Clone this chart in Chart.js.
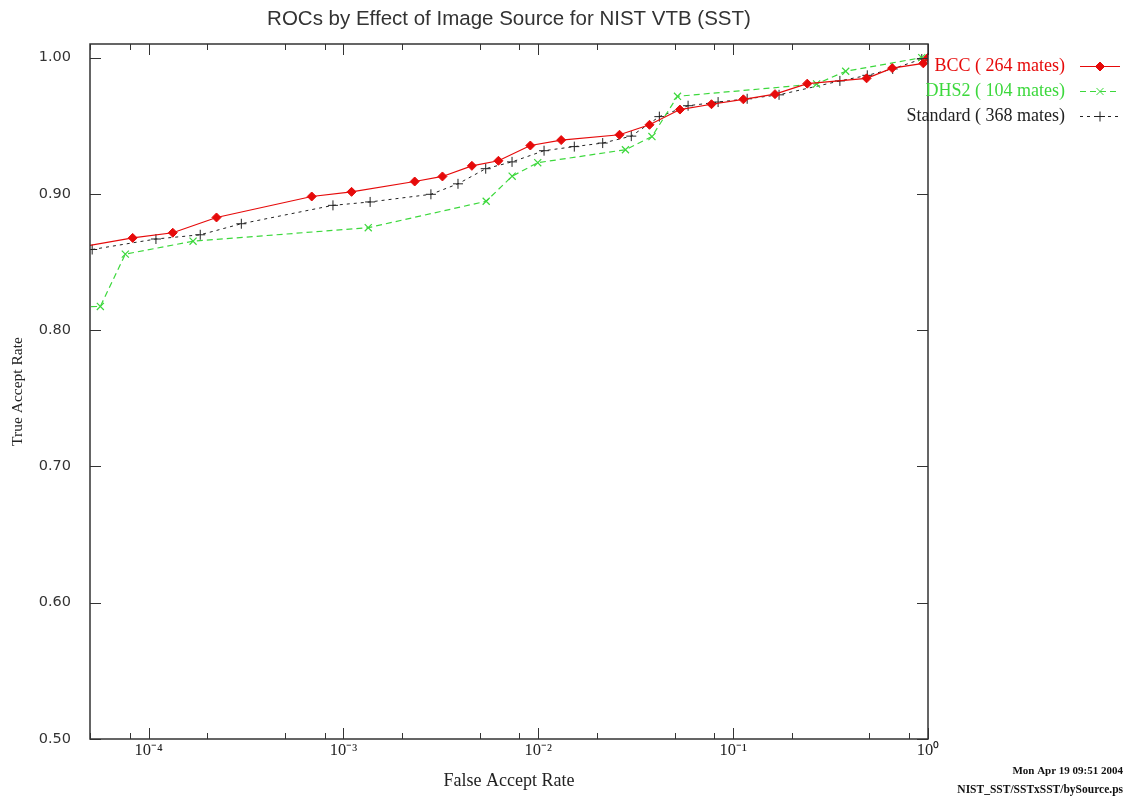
<!DOCTYPE html>
<html>
<head>
<meta charset="utf-8">
<script src="https://cdn.jsdelivr.net/npm/chart.js@4.4.1/dist/chart.umd.min.js"></script>
<style>
  html, body { margin: 0; padding: 0; background: #fff; }
  #wrap { width: 1126px; height: 799px; position: relative; }
</style>
</head>
<body>
<div id="wrap"><canvas id="roc"></canvas></div>
<script>
// values (false accept rate / true accept rate)
const bccFar = [4.5e-5, 8.28e-5, 1.33e-4, 2.23e-4, 6.87e-4, 1.10e-3, 2.32e-3, 3.22e-3, 4.56e-3, 6.24e-3, 9.10e-3, 1.31e-2,
    2.61e-2, 3.72e-2, 5.33e-2, 7.74e-2, 0.1128, 0.164, 0.240, 0.484, 0.655, 0.946, 1.0];
const bccTar = [0.861, 0.8677, 0.8715, 0.8827, 0.8981, 0.9015, 0.9091, 0.9128, 0.9206, 0.9243, 0.9355, 0.9395,
    0.9434, 0.9507, 0.9619, 0.9658, 0.9694, 0.9732, 0.9809, 0.9848, 0.9923, 0.9958, 1.0];

const dhsFar = [4.5e-5, 5.65e-5, 7.59e-5, 1.69e-4, 1.34e-3, 5.40e-3, 7.34e-3, 9.93e-3, 2.80e-2, 3.83e-2, 5.18e-2,
    0.268, 0.378, 0.929];
const dhsTar = [0.8172, 0.8174, 0.8558, 0.8653, 0.8752, 0.8946, 0.9130, 0.9229, 0.9324, 0.9421, 0.9716,
    0.9807, 0.990, 1.0];

const stdFar = [5.13e-5, 1.09e-4, 1.84e-4, 2.99e-4, 8.83e-4, 1.37e-3, 2.81e-3, 3.87e-3, 5.37e-3, 7.33e-3, 1.07e-2,
    1.53e-2, 2.14e-2, 3.00e-2, 4.18e-2, 5.87e-2, 8.37e-2, 0.118, 0.172, 0.353, 0.488, 0.659, 0.929];
const stdTar = [0.8592, 0.8669, 0.870, 0.8781, 0.8916, 0.8941, 0.8997, 0.9074, 0.9185, 0.9235, 0.9317,
    0.9347, 0.9373, 0.9424, 0.9567, 0.9647, 0.9674, 0.9698, 0.9727, 0.9829, 0.9870, 0.9917, 0.999];

const seriesNames = ['BCC ( 264 mates)', 'DHS2 ( 104 mates)', 'Standard ( 368 mates)'];

const xTickValues = [1e-4, 1e-3, 1e-2, 1e-1, 1];
const xTickLabels = ['10\u207B\u2074', '10\u207B\u00B3', '10\u207B\u00B2', '10\u207B\u00B9', '10\u2070'];
const xMinorSteps = [2, 5, 8];
const yTickValues = [0.5, 0.6, 0.7, 0.8, 0.9, 1.0];

const titleText = 'ROCs by Effect of Image Source for NIST VTB (SST)';
const footerLines = ['Mon Apr 19 09:51 2004', 'NIST_SST/SSTxSST/bySource.ps'];

const RED = '#e60a0a', GREEN = '#3cd83c', BLACK = '#222';

function toPoints(xs, ys) { return xs.map((x, i) => ({ x: x, y: ys[i] })); }

// gnuplot style: inward ticks on all sides, frame, title, legend at the right, stamp
const gnuplotDecor = {
    id: 'gnuplotDecor',
    afterDraw(chart) {
        const ctx = chart.ctx;
        const { left, right, top, bottom } = chart.chartArea;
        const xs = chart.scales.x, ys = chart.scales.y;
        ctx.save();
        ctx.strokeStyle = '#333';
        ctx.lineWidth = 1;
        ctx.setLineDash([]);
        ctx.beginPath();
        xTickValues.forEach(v => {
            const px = Math.round(xs.getPixelForValue(v)) + 0.5;
            ctx.moveTo(px, bottom); ctx.lineTo(px, bottom - 11);
            ctx.moveTo(px, top); ctx.lineTo(px, top + 11);
        });
        for (let e = -6; e <= 0; e++) {
            xMinorSteps.forEach(m => {
                const v = m * Math.pow(10, e);
                if (v < xs.min || v > xs.max) return;
                const px = Math.round(xs.getPixelForValue(v)) + 0.5;
                ctx.moveTo(px, bottom); ctx.lineTo(px, bottom - 6);
                ctx.moveTo(px, top); ctx.lineTo(px, top + 6);
            });
        }
        yTickValues.forEach(v => {
            const py = Math.round(ys.getPixelForValue(v)) + 0.5;
            ctx.moveTo(left, py); ctx.lineTo(left + 11, py);
            ctx.moveTo(right, py); ctx.lineTo(right - 11, py);
        });
        ctx.stroke();

        ctx.lineWidth = 1.5;
        ctx.strokeRect(left, top, right - left, bottom - top);

        // title
        ctx.fillStyle = '#333';
        ctx.font = '20.5px "Liberation Sans", Arial, sans-serif';
        ctx.textAlign = 'center';
        ctx.textBaseline = 'middle';
        ctx.fillText(titleText, (left + right) / 2, 19);

        // legend
        ctx.font = '18px "Liberation Serif", serif';
        ctx.textAlign = 'right';
        chart.data.datasets.forEach((ds, i) => {
            const y = 66 + i * 25;
            ctx.fillStyle = ds.borderColor;
            ctx.fillText(seriesNames[i], 1065, y);
            ctx.strokeStyle = ds.borderColor;
            ctx.lineWidth = 1;
            ctx.setLineDash(ds.borderDash || []);
            ctx.beginPath();
            ctx.moveTo(1080, y + 0.5); ctx.lineTo(1120, y + 0.5);
            ctx.stroke();
            ctx.setLineDash([]);
            Chart.helpers.drawPoint(ctx, {
                pointStyle: ds.pointStyle, radius: ds.pointRadius, rotation: 0,
                borderWidth: 1
            }, 1100, y + 0.5);
            if (ds.pointStyle === 'rectRot') { ctx.fillStyle = ds.borderColor; ctx.fill(); }
        });

        // stamp
        ctx.fillStyle = '#111';
        ctx.font = 'bold 11px "Liberation Serif", serif';
        ctx.textAlign = 'right';
        ctx.fillText(footerLines[0], 1123, 771);
        ctx.font = 'bold 11.5px "Liberation Serif", serif';
        ctx.fillText(footerLines[1], 1123, 790);
        ctx.restore();
    }
};

new Chart(document.getElementById('roc'), {
    type: 'scatter',
    data: {
        datasets: [
            {
                label: seriesNames[0], data: toPoints(bccFar, bccTar), showLine: true,
                borderColor: RED, backgroundColor: RED, borderWidth: 1.2,
                pointStyle: 'rectRot', pointRadius: 4.5, pointBorderWidth: 1, tension: 0
            },
            {
                label: seriesNames[1], data: toPoints(dhsFar, dhsTar), showLine: true,
                borderColor: GREEN, backgroundColor: GREEN, borderWidth: 1.2, borderDash: [6, 4],
                pointStyle: 'crossRot', pointRadius: 5, pointBorderWidth: 1.2, tension: 0
            },
            {
                label: seriesNames[2], data: toPoints(stdFar, stdTar), showLine: true,
                borderColor: BLACK, backgroundColor: BLACK, borderWidth: 1, borderDash: [3, 4],
                pointStyle: 'cross', pointRadius: 5, pointBorderWidth: 1, tension: 0
            }
        ]
    },
    options: {
        responsive: true, maintainAspectRatio: false,
        animation: false,
        layout: { padding: { top: 44, right: 198, left: 0, bottom: 0 } },
        scales: {
            x: {
                type: 'logarithmic', min: 5e-5, max: 1,
                afterBuildTicks: (s) => { s.ticks = xTickValues.map(v => ({ value: v })); },
                afterFit: (s) => { s.height = 60; },
                grid: { display: false, drawTicks: false },
                border: { display: false },
                ticks: {
                    autoSkip: false, maxRotation: 0, padding: 2, color: '#222',
                    font: { size: 16.5, family: '"Liberation Serif", serif' },
                    callback: (v, i) => xTickLabels[i]
                },
                title: {
                    display: true, text: 'False Accept Rate', color: '#222',
                    font: { size: 18, family: '"Liberation Serif", serif' },
                    padding: { top: 0, bottom: 7 }
                }
            },
            y: {
                type: 'linear', min: 0.5, max: 1.01,
                afterBuildTicks: (s) => { s.ticks = yTickValues.map(v => ({ value: v })); },
                afterFit: (s) => { s.width = 90; },
                grid: { display: false, drawTicks: false },
                border: { display: false },
                ticks: {
                    padding: 19, color: '#333',
                    font: { size: 14.5, family: '"DejaVu Sans", sans-serif' },
                    callback: (v) => v.toFixed(2)
                },
                title: {
                    display: true, text: 'True Accept Rate', color: '#222',
                    font: { size: 15.5, family: '"Liberation Serif", serif' },
                    padding: { top: 9, bottom: 0 }
                }
            }
        },
        plugins: {
            legend: { display: false },
            title: { display: false },
            tooltip: { enabled: false }
        }
    },
    plugins: [gnuplotDecor]
});
</script>
</body>
</html>
